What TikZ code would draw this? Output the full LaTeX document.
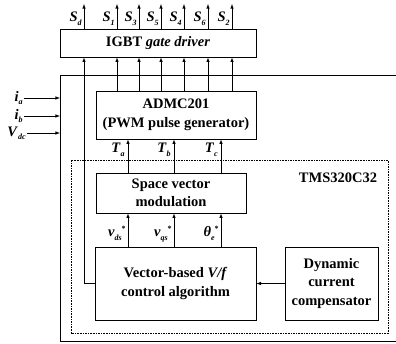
\documentclass[tikz,border=0pt]{standalone}
\usepackage{fontspec}
\setmainfont{Liberation Serif}
\usetikzlibrary{arrows}

\newcommand{\sig}[2]{\textit{#1}\raisebox{-0.5ex}{\footnotesize\textit{#2}}}
\newcommand{\sigst}[2]{\textit{#1}\raisebox{-0.5ex}{\footnotesize\textit{#2}}\raisebox{0.9ex}{\footnotesize *}}

\begin{document}
\begin{tikzpicture}
  [x=1pt,y=-1pt,>=latex,semithick,
   every node/.style={font=\fontsize{14.5}{18.5}\selectfont\bfseries},
   blk/.style={draw,thick,inner sep=0pt,align=center},
   frame/.style={line width=0.9pt},
   chip/.style={dash pattern=on 1.6pt off 1pt,thick}]
  \useasboundingbox (0,0) rectangle (396,344);

  % blocks
  \node[blk,minimum width=196,minimum height=28] (igbt) at (158,43) {IGBT \textit{gate driver}};
  \node[blk,minimum width=160,minimum height=48] (admc) at (176,115) {ADMC201\\(PWM pulse generator)};
  \node[blk,minimum width=150,minimum height=40] (svm) at (171,193) {Space vector\\modulation};
  \node[blk,minimum width=161,minimum height=73] (vbc) at (175.5,283.5) {Vector-based \textit{V/f}\\control algorithm};
  \node[blk,minimum width=93,minimum height=73] (dcc) at (331.5,283.5) {Dynamic\\current\\compensator};

  % outer frame and DSP
  \draw[frame] (396,75) -- (60,75) -- (60,341) -- (396,341);
  \draw[chip] (71,160) rectangle (388,333);
  \node (tms) at (338,178) {TMS320C32};

  % gate signals
  \foreach \n/\x in {d/84,1/117,3/139,5/161,4/184,6/208,2/232} {
    \coordinate (s\n) at (\x,4);
    \node[anchor=base east,inner sep=1pt] (ls\n) at (\x-1,22) {\sig{S}{\n}};
    \draw[->] (igbt.north -| s\n) -- (s\n);
  }
  \foreach \n in {1,3,5,4,6,2}
    \draw[->] (admc.north -| s\n) -- (igbt.south -| s\n);

  % measured inputs
  \node[anchor=east,inner sep=1pt] (ia) at (24,98) {\sig{i}{a}};
  \node[anchor=east,inner sep=1pt] (ib) at (24,116) {\sig{i}{b}};
  \node[anchor=east,inner sep=1pt] (vdc) at (27,133) {\sig{V}{dc}};
  \coordinate (fa) at (60,98);
  \coordinate (fb) at (60,116);
  \coordinate (fc) at (60,133);
  \draw[->] (ia) -- (fa);
  \draw[->] (ib) -- (fb);
  \draw[->] (vdc) -- (fc);

  % timings and references
  \coordinate (ta) at (128,0);
  \coordinate (tb) at (174,0);
  \coordinate (tc) at (221,0);
  \foreach \t in {a,b,c} {
    \draw[->] (svm.north -| t\t) -- (admc.south -| t\t);
    \draw[->] (vbc.north -| t\t) -- (svm.south -| t\t);
  }
  \node[anchor=base east,inner sep=1pt] (lta) at (126,153) {\sig{T}{a}};
  \node[anchor=base east,inner sep=1pt] (ltb) at (172,153) {\sig{T}{b}};
  \node[anchor=base east,inner sep=1pt] (ltc) at (219,153) {\sig{T}{c}};
  \node[anchor=base east,inner sep=1pt] (lvd) at (127,237) {\sigst{v}{ds}};
  \node[anchor=base east,inner sep=1pt] (lvq) at (173,237) {\sigst{v}{qs}};
  \node[anchor=base east,inner sep=1pt] (lth) at (220,237) {\sigst{θ}{e}};

  % feedback to driver and compensation
  \draw[->] (vbc.west) -| (igbt.south -| sd);
  \draw[->] (dcc) -- (vbc);
\end{tikzpicture}
\end{document}
